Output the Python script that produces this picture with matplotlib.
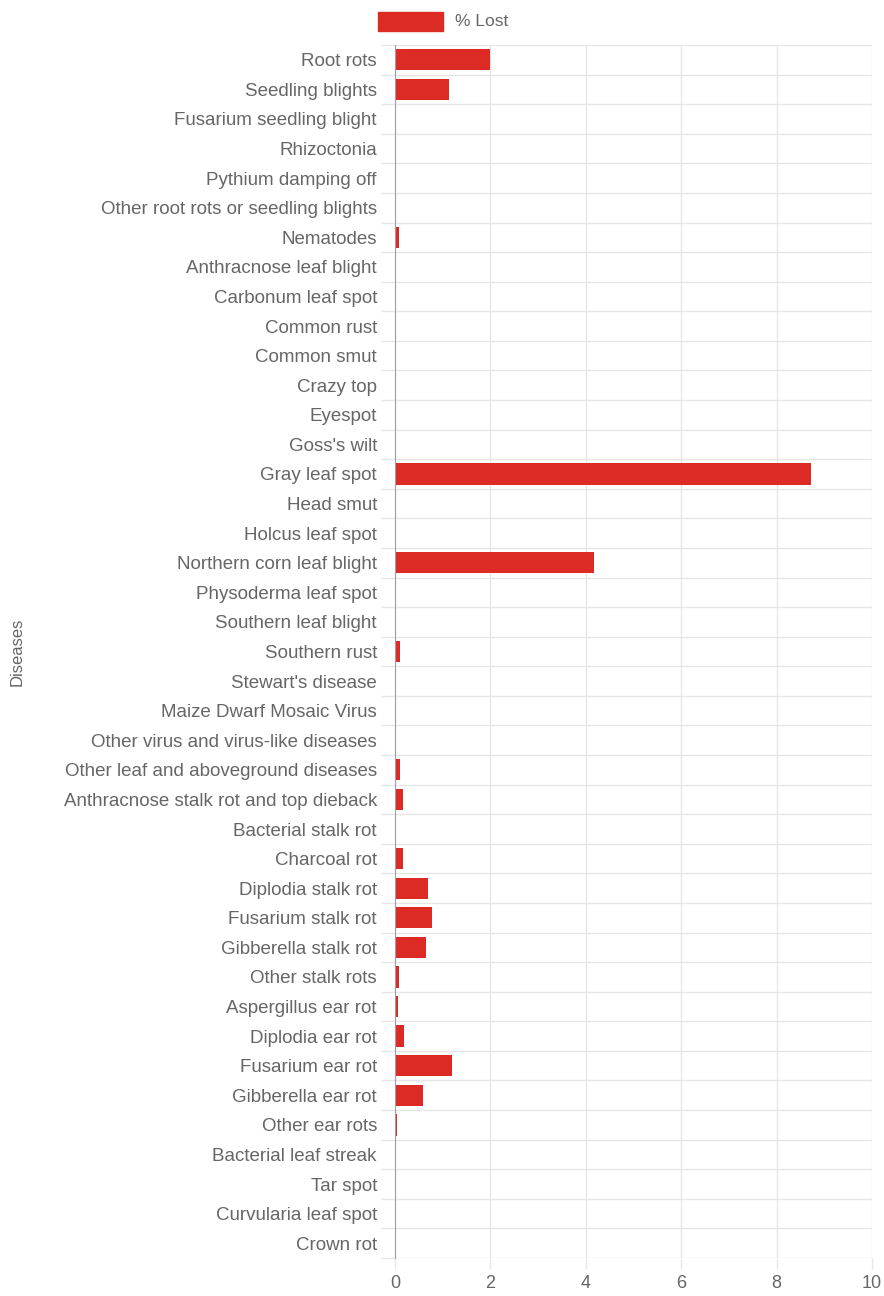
import numpy as np
import matplotlib
matplotlib.use("Agg")
import matplotlib.pyplot as plt

plt.rcParams['font.family'] = ['Liberation Sans', 'DejaVu Sans']

diseases = [
    "Root rots", "Seedling blights", "Fusarium seedling blight", "Rhizoctonia",
    "Pythium damping off", "Other root rots or seedling blights", "Nematodes",
    "Anthracnose leaf blight", "Carbonum leaf spot", "Common rust", "Common smut",
    "Crazy top", "Eyespot", "Goss's wilt", "Gray leaf spot", "Head smut",
    "Holcus leaf spot", "Northern corn leaf blight", "Physoderma leaf spot",
    "Southern leaf blight", "Southern rust", "Stewart's disease",
    "Maize Dwarf Mosaic Virus", "Other virus and virus-like diseases",
    "Other leaf and aboveground diseases", "Anthracnose stalk rot and top dieback",
    "Bacterial stalk rot", "Charcoal rot", "Diplodia stalk rot", "Fusarium stalk rot",
    "Gibberella stalk rot", "Other stalk rots", "Aspergillus ear rot",
    "Diplodia ear rot", "Fusarium ear rot", "Gibberella ear rot", "Other ear rots",
    "Bacterial leaf streak", "Tar spot", "Curvularia leaf spot", "Crown rot",
]
pct_lost = [
    2.0, 1.14, 0, 0,
    0, 0, 0.08,
    0.02, 0, 0, 0,
    0, 0, 0, 8.73, 0,
    0, 4.18, 0,
    0, 0.1, 0,
    0, 0,
    0.1, 0.16,
    0.02, 0.16, 0.69, 0.78,
    0.64, 0.08, 0.07,
    0.18, 1.19, 0.58, 0.04,
    0, 0, 0, 0,
]
x_ticks = [0, 2, 4, 6, 8, 10]

bar_color = '#dc2b25'
grid_color = '#e6e6e6'
text_color = '#666666'

fig = plt.figure(figsize=(8.84, 12.96), dpi=100)
ax = fig.add_axes([395 / 884, 1 - 1258 / 1296, 477 / 884, (1258 - 45) / 1296])

y = np.arange(len(diseases))
ax.barh(y, pct_lost, height=0.72, color=bar_color, zorder=3)

ax.set_xlim(0, 10)
ax.set_ylim(len(diseases) - 0.5, -0.5)
ax.set_xticks(x_ticks)
ax.set_xticklabels([str(t) for t in x_ticks])
ax.set_yticks(y)
ax.set_yticklabels(diseases)
ax.set_yticks(np.arange(len(diseases) + 1) - 0.5, minor=True)

ax.grid(True, axis='x', color=grid_color, linewidth=1, zorder=0)
ax.grid(True, axis='y', which='minor', color=grid_color, linewidth=1, zorder=0)
ax.tick_params(axis='y', which='major', length=0, pad=13, labelsize=13.5, labelcolor=text_color)
ax.tick_params(axis='y', which='minor', length=10, color=grid_color, width=1)
ax.tick_params(axis='x', length=8, color=grid_color, width=1, pad=4, labelsize=13, labelcolor=text_color)

for side in ['top', 'right', 'bottom']:
    ax.spines[side].set_visible(False)
ax.spines['left'].set_color('#a0a0a0')
ax.spines['left'].set_zorder(4)

ax.set_ylabel("Diseases", color=text_color, fontsize=12)
ax.yaxis.set_label_coords(-370 / 477, 0.5)

# legend
fig.patches.append(plt.Rectangle((378 / 884, 1 - 31 / 1296), 65 / 884, 19 / 1296,
                                 transform=fig.transFigure, color=bar_color))
fig.text(455 / 884, 1 - 21 / 1296, "% Lost", color=text_color, fontsize=12.5, va='center')

fig.savefig("out.png", dpi=100)
